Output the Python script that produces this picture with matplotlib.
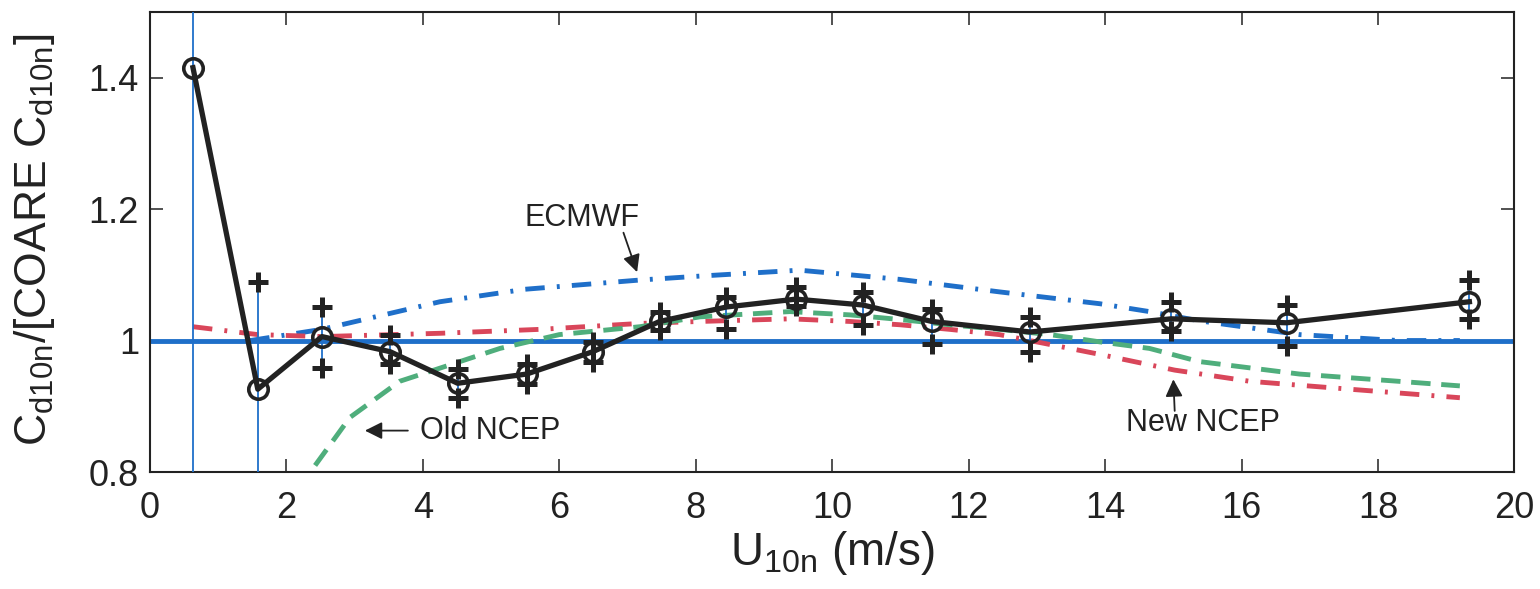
import numpy as np
import matplotlib
matplotlib.use('Agg')
import matplotlib.pyplot as plt

plt.rcParams['font.family'] = ['Liberation Sans', 'DejaVu Sans']
plt.rcParams['mathtext.default'] = 'regular'

# bin-averaged ratio with error bar ends
u_bins = [0.63, 1.58, 2.52, 3.52, 4.51, 5.52, 6.49, 7.47, 8.45, 9.47,
          10.45, 11.46, 12.9, 14.97, 16.66, 19.34]
ratio = [1.415, 0.926, 1.006, 0.983, 0.935, 0.949, 0.983, 1.029, 1.051, 1.063,
         1.054, 1.029, 1.013, 1.033, 1.027, 1.059]
err_hi = [1.60, 1.089, 1.051, 1.009, 0.956, 0.964, 0.998, 1.043, 1.066, 1.082,
          1.074, 1.048, 1.036, 1.059, 1.054, 1.092]
err_lo = [0.70, 0.76, 0.958, 0.964, 0.913, 0.934, 0.968, 1.016, 1.018, 1.052,
          1.024, 0.994, 0.983, 1.014, 0.991, 1.033]

# model curves relative to COARE
ecmwf_u = [1.47, 2.52, 4.25, 5.5, 7.18, 8.06, 9.52, 10.99, 12.45, 13.92,
           14.65, 15.38, 16.85, 18.3, 19.2]
ecmwf_r = [1.0, 1.017, 1.059, 1.078, 1.092, 1.098, 1.107, 1.093, 1.074, 1.056,
           1.044, 1.03, 1.009, 1.0, 1.0]

new_u = [0.63, 1.58, 2.52, 4.25, 5.72, 7.18, 8.06, 9.38, 10.26, 10.99, 11.72,
         12.45, 13.19, 13.92, 15.02, 16.12, 17.58, 19.2]
new_r = [1.021, 1.009, 1.006, 1.011, 1.017, 1.026, 1.029, 1.033, 1.029, 1.024,
         1.017, 1.009, 0.994, 0.979, 0.955, 0.938, 0.926, 0.913]

old_u = [2.42, 2.93, 3.66, 4.25, 5.13, 6.0, 7.18, 8.06, 9.38, 10.26, 10.99,
         11.72, 12.45, 13.19, 13.92, 14.65, 15.38, 16.85, 18.3, 19.2]
old_r = [0.81, 0.883, 0.938, 0.958, 0.988, 1.009, 1.021, 1.036, 1.044, 1.039,
         1.032, 1.024, 1.017, 1.009, 0.998, 0.988, 0.968, 0.949, 0.938, 0.931]

blue = '#1f6fc9'
red = '#d9465a'
green = '#4fae7c'
ink = '#222222'

fig = plt.figure(figsize=(15.4, 5.89), dpi=100)
ax = fig.add_axes([0.0974, 0.1986, 0.886, 0.7814])

ax.axhline(1.0, color=blue, lw=3.5, zorder=2)

ax.plot(ecmwf_u, ecmwf_r, color=blue, lw=3.5, dashes=[4, 2.5, 0.6, 2.5], zorder=3)
ax.plot(new_u, new_r, color=red, lw=3.5, dashes=[4, 2.5, 0.6, 2.5], zorder=3)
ax.plot(old_u, old_r, color=green, lw=3.5, dashes=[4, 2.2], zorder=3)

# error bars: thin blue stems, bold black plus at the ends
for u, lo, hi in zip(u_bins, err_lo, err_hi):
    ax.plot([u, u], [lo, hi], color=blue, lw=1.3, zorder=4)
ax.plot(u_bins, err_hi, ls='none', marker='+', ms=15, mew=3.6, color=ink, zorder=5)
ax.plot(u_bins, err_lo, ls='none', marker='+', ms=15, mew=3.6, color=ink, zorder=5)

ax.plot(u_bins, ratio, color=ink, lw=3.8, marker='o', ms=14, mew=2.6,
        mfc='none', mec=ink, zorder=6)

arrow = dict(arrowstyle='-|>', color=ink, lw=1.3, mutation_scale=26, shrinkA=0, shrinkB=0)
ax.text(6.33, 1.186, 'ECMWF', fontsize=22, ha='center', va='center', color=ink)
ax.annotate('', xy=(7.14, 1.104), xytext=(6.94, 1.164), arrowprops=arrow)
ax.text(3.96, 0.863, 'Old NCEP', fontsize=22, ha='left', va='center', color=ink)
ax.annotate('', xy=(3.15, 0.863), xytext=(3.78, 0.863), arrowprops=arrow)
ax.text(15.43, 0.875, 'New NCEP', fontsize=22, ha='center', va='center', color=ink)
ax.annotate('', xy=(15.0, 0.941), xytext=(15.02, 0.893), arrowprops=arrow)

ax.set_xlim(0, 20)
ax.set_ylim(0.8, 1.5)
ax.set_xticks(np.arange(0, 21, 2))
ax.set_yticks([0.8, 1.0, 1.2, 1.4])
ax.set_yticklabels(['0.8', '1', '1.2', '1.4'])
ax.tick_params(direction='in', length=9.5, width=1.1, top=True, right=True,
               labelsize=26, colors=ink)
ax.tick_params(axis='x', pad=14)
ax.tick_params(axis='y', pad=8)
for s in ax.spines.values():
    s.set_linewidth(1.5)
    s.set_color(ink)

ax.set_xlabel('U$_{10n}$ (m/s)', fontsize=33, color=ink, labelpad=2)
ax.set_ylabel('C$_{d10n}$/[COARE C$_{d10n}$]', fontsize=32, color=ink)
ax.yaxis.set_label_coords(-0.068, 0.505)

fig.savefig('out.png', dpi=100)
